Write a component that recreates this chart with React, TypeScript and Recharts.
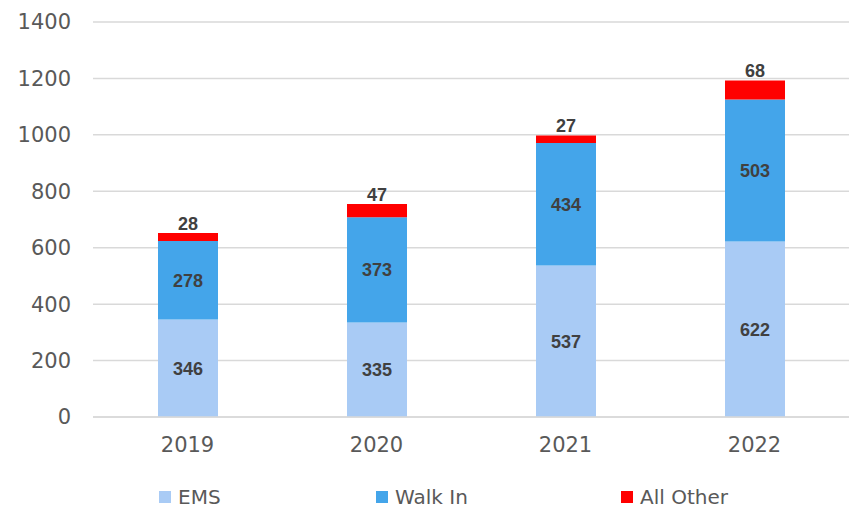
import { BarChart, Bar, XAxis, YAxis, CartesianGrid, LabelList } from "recharts";

const years = ["2019", "2020", "2021", "2022"];
const ems = [346, 335, 537, 622];
const walkIn = [278, 373, 434, 503];
const allOther = [28, 47, 27, 68];
const yTicks = [0, 200, 400, 600, 800, 1000, 1200, 1400];

const data = years.map((y, i) => ({
  year: y,
  ems: ems[i],
  walkIn: walkIn[i],
  allOther: allOther[i],
}));

const FONT = "'DejaVu Sans', sans-serif";
const AXIS_COLOR = "#595959";
const LABEL_COLOR = "#404040";

const legendItems = [
  { name: "EMS", color: "#a9cbf5", left: 159 },
  { name: "Walk In", color: "#44a5ea", left: 376 },
  { name: "All Other", color: "#ff0000", left: 621 },
];

const labelStyle = {
  fill: LABEL_COLOR,
  fontSize: 18,
  fontWeight: 700,
  fontFamily: "'Liberation Sans', Arial, sans-serif",
};

export default function App() {
  return (
    <div
      style={{
        position: "absolute",
        left: 0,
        top: 0,
        width: 853,
        height: 510,
        background: "#fff",
      }}
    >
      <BarChart
        width={853}
        height={470}
        data={data}
        margin={{ top: 22, right: 4, left: 13, bottom: 13 }}
      >
        <CartesianGrid vertical={false} stroke="#d9d9d9" strokeWidth={1.5} />
        <XAxis
          dataKey="year"
          height={40}
          tickLine={false}
          tickSize={0}
          tickMargin={20}
          axisLine={{ stroke: "#d9d9d9", strokeWidth: 1.5 }}
          tick={{ fontSize: 21, fill: AXIS_COLOR, fontFamily: FONT }}
        />
        <YAxis
          width={80}
          domain={[0, 1400]}
          ticks={yTicks}
          interval={0}
          tickLine={false}
          axisLine={false}
          tickSize={0}
          tickMargin={22}
          tick={{ fontSize: 21, fill: AXIS_COLOR, fontFamily: FONT }}
        />
        <Bar dataKey="ems" stackId="a" fill="#a9cbf5" barSize={60} isAnimationActive={false}>
          <LabelList dataKey="ems" position="center" style={labelStyle} />
        </Bar>
        <Bar dataKey="walkIn" stackId="a" fill="#44a5ea" barSize={60} isAnimationActive={false}>
          <LabelList dataKey="walkIn" position="center" style={labelStyle} />
        </Bar>
        <Bar dataKey="allOther" stackId="a" fill="#ff0000" barSize={60} isAnimationActive={false}>
          <LabelList dataKey="allOther" position="top" offset={3} style={labelStyle} />
        </Bar>
      </BarChart>
      {legendItems.map((item) => (
        <div
          key={item.name}
          style={{
            position: "absolute",
            top: 485,
            left: item.left,
            display: "flex",
            alignItems: "center",
            fontFamily: FONT,
            fontSize: 20,
            color: AXIS_COLOR,
          }}
        >
          <span
            style={{
              display: "inline-block",
              width: 12,
              height: 12,
              background: item.color,
              marginRight: 7,
            }}
          />
          {item.name}
        </div>
      ))}
    </div>
  );
}
